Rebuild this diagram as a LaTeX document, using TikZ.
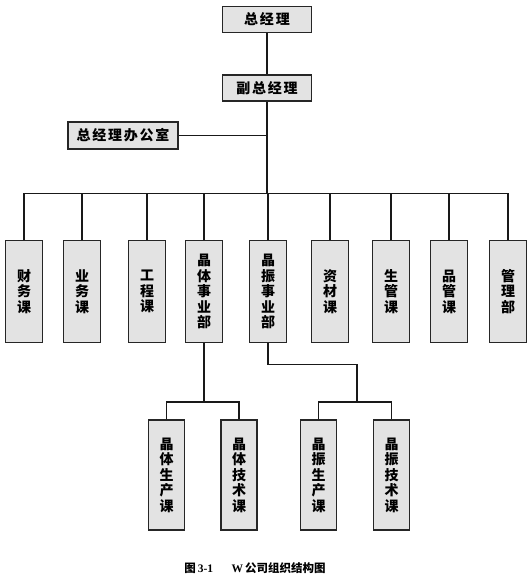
\documentclass[tikz,border=0pt]{standalone}
\usepackage{fontspec}
\setmainfont{Noto Sans CJK SC}
\newfontfamily\latinfont{Liberation Serif}
\newcommand{\ks}{\kern1.8pt}
\begin{document}
\begin{tikzpicture}[x=1pt,y=-1pt,
  box/.style={draw=black!85,line width=1.1pt,fill=black!11,inner sep=0pt,
    font=\fontsize{14}{15.5}\selectfont\bfseries},
  hbox/.style={box,minimum width=89pt,minimum height=26pt},
  vbox/.style={box,minimum width=37pt,minimum height=102pt,align=center},
  sbox/.style={box,minimum width=36pt,minimum height=110pt,align=center},
  conn/.style={draw=black!90,line width=1.3pt}]
\useasboundingbox (0,0) rectangle (532,575);
% top
\node[hbox] (gm) at (267,19.5) {总\ks 经\ks 理};
\node[hbox] (vgm) at (267,88) {副\ks 总\ks 经\ks 理};
\node[box,minimum width=110pt,minimum height=27pt] (off) at (123,135.5) {总\ks 经\ks 理\ks 办\ks 公\ks 室};
\coordinate (j1) at (267,135.5);
\coordinate (bus) at (267,193.5);
% row
\node[vbox] (d1) at (24,291.5) {财\\务\\课};
\node[vbox] (d2) at (82,291.5) {业\\务\\课};
\node[vbox] (d3) at (147,291.5) {工\\程\\课};
\node[vbox] (d4) at (204,291.5) {晶\\体\\事\\业\\部};
\node[vbox] (d5) at (268,291.5) {晶\\振\\事\\业\\部};
\node[vbox] (d6) at (330,291.5) {资\\材\\课};
\node[vbox] (d7) at (391,291.5) {生\\管\\课};
\node[vbox] (d8) at (449,291.5) {品\\管\\课};
\node[vbox] (d9) at (508,291.5) {管\\理\\部};
% sub
\node[sbox] (s1) at (166.5,475) {晶\\体\\生\\产\\课};
\node[sbox] (s2) at (239,475) {晶\\体\\技\\术\\课};
\node[sbox] (s3) at (318.5,475) {晶\\振\\生\\产\\课};
\node[sbox] (s4) at (391.5,475) {晶\\振\\技\\术\\课};
\coordinate (b1) at (204,402);
\coordinate (e1) at (268,364.5);
\coordinate (e2) at (357,364.5);
\coordinate (b2) at (357,402);
% connectors
\draw[conn] (gm) -- (vgm);
\draw[conn] (vgm) -- (bus);
\draw[conn] (off) -- (j1);
\draw[conn] (d1.north) |- (bus) -| (d9.north);
\foreach \d in {d2,d3,d4,d5,d6,d7,d8}{\draw[conn] (\d.north) -- (\d.north |- bus);}
\draw[conn] (d4.south) -- (b1);
\draw[conn] (s1.north) |- (b1) -| (s2.north);
\draw[conn] (d5.south) -- (e1) -- (e2) -- (b2);
\draw[conn] (s3.north) |- (b2) -| (s4.north);
% caption
\node (cap) at (255,568) {\fontsize{11.5}{13}\selectfont\bfseries 图\,{\latinfont\bfseries 3-1}\hspace{1.6em}{\latinfont\bfseries W}\,公司组织结构图};
\end{tikzpicture}
\end{document}
